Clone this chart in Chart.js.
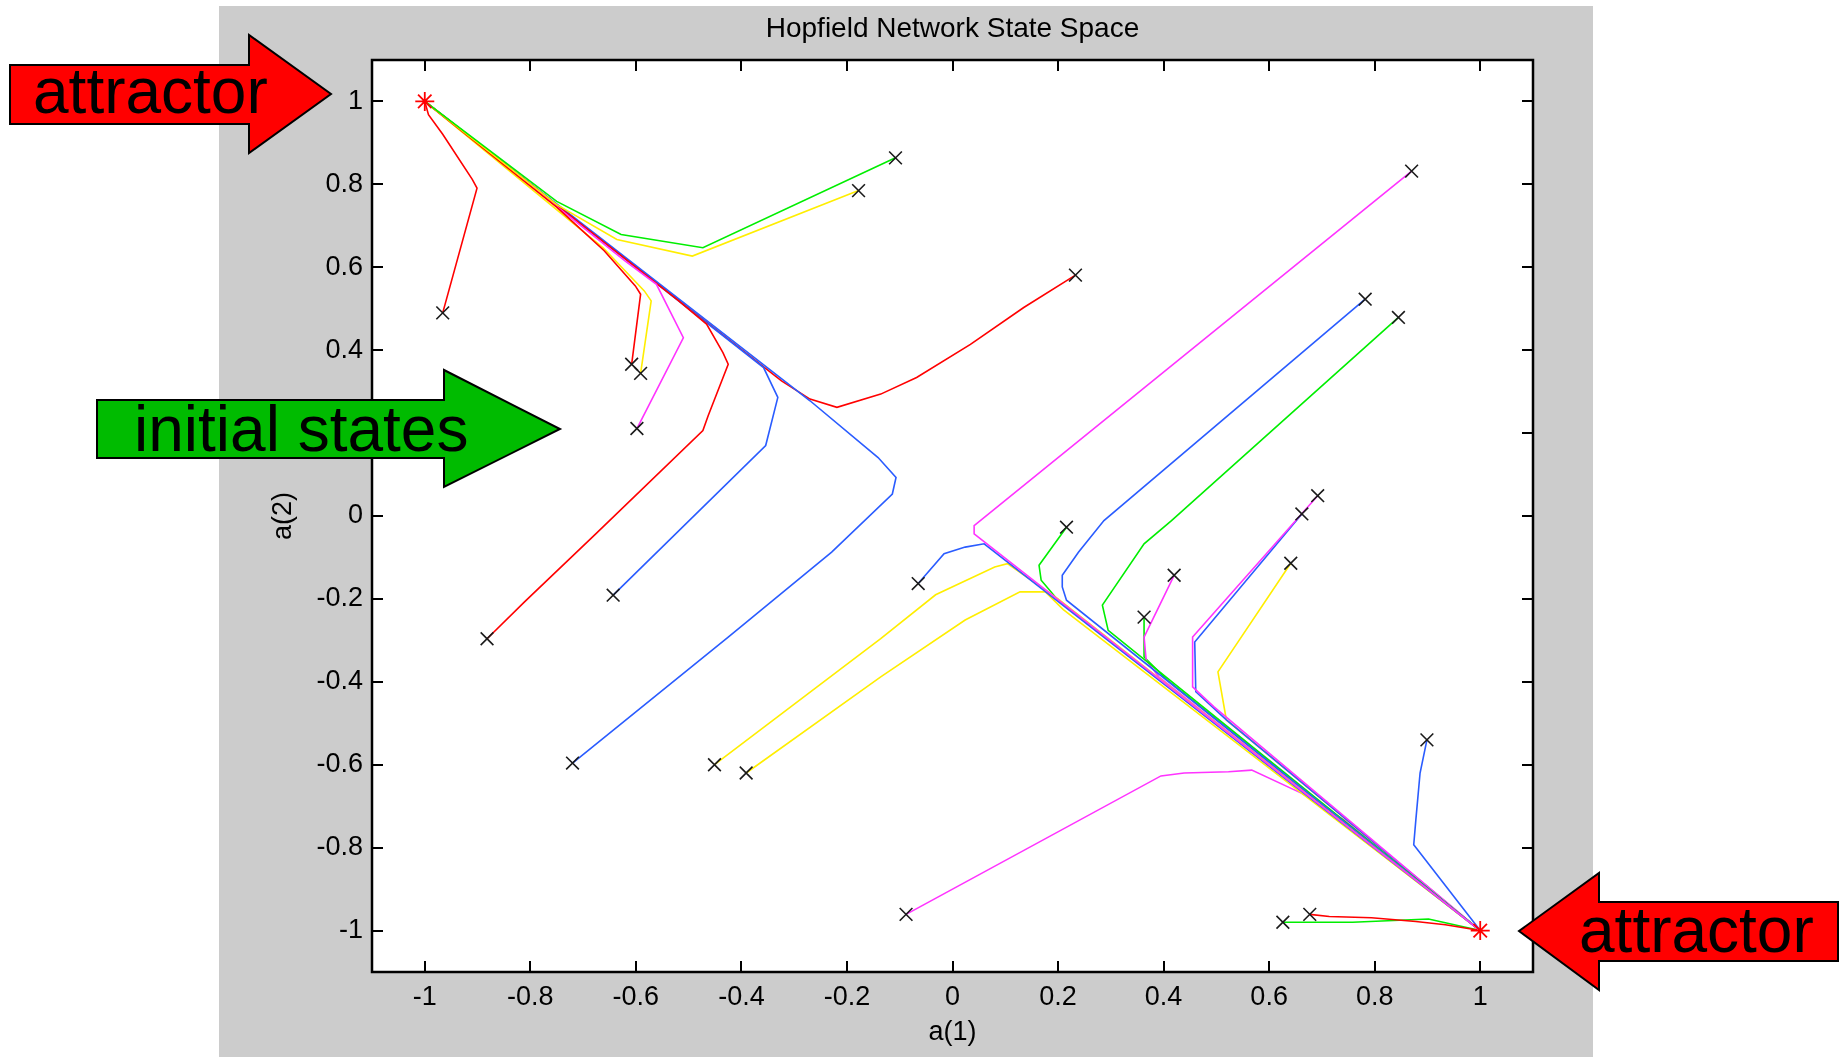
<!DOCTYPE html>
<html><head><meta charset="utf-8">
<script src="https://cdn.jsdelivr.net/npm/chart.js@4.4.1/dist/chart.umd.min.js"></script>
<style>
html,body{margin:0;padding:0;background:#fff;}
#wrap{position:relative;width:1848px;height:1057px;}
#c{position:absolute;left:0;top:0;}
#ann{position:absolute;left:0;top:0;pointer-events:none;font-family:'Liberation Sans',Arial,Helvetica,sans-serif;}
</style></head><body>
<div id="wrap">
<canvas id="c" width="1848" height="1057"></canvas>
<svg id="ann" width="1848" height="1057" xmlns="http://www.w3.org/2000/svg">
  <polygon points="10,65 249,65 249,35 331,94 249,153 249,124 10,124" fill="#ff0000" stroke="#000" stroke-width="2"/>
  <text x="33" y="113" font-size="64" fill="#000">attractor</text>
  <polygon points="97,400 444,400 444,370 560,429 444,487 444,458 97,458" fill="#00bb00" stroke="#000" stroke-width="2"/>
  <text x="134" y="451" font-size="64" fill="#000">initial states</text>
  <polygon points="1838,902 1599,902 1599,873 1519,931 1599,990 1599,961 1838,961" fill="#ff0000" stroke="#000" stroke-width="2"/>
  <text x="1579" y="952" font-size="64" fill="#000">attractor</text>
</svg>
</div>
<script>
// ---- data ----
const tickValues = [-1, -0.8, -0.6, -0.4, -0.2, 0, 0.2, 0.4, 0.6, 0.8, 1];
const attractors = [[-1, 1], [1, -1]];

// trajectories (start point first, ends at an attractor)
const t01 = [[-0.966,0.490],[-0.901,0.791],[-0.910,0.812],[-0.966,0.921],[-0.993,0.968],[-1,1]];
const t02 = [[-0.108,0.864],[-0.473,0.647],[-0.628,0.679],[-0.750,0.759],[-1,1]];
const t03 = [[-0.178,0.785],[-0.493,0.627],[-0.636,0.667],[-0.750,0.751],[-1,1]];
const t04 = [[-0.608,0.366],[-0.591,0.535],[-0.601,0.555],[-0.660,0.640],[-0.750,0.745],[-1,1]];
const t05 = [[-0.591,0.344],[-0.571,0.519],[-0.584,0.543],[-0.662,0.647],[-1,1]];
const t06 = [[-0.598,0.211],[-0.510,0.430],[-0.561,0.559],[-0.620,0.615],[-1,1]];
const t07 = [[-0.882,-0.296],[-0.811,-0.207],[-0.676,-0.043],[-0.473,0.206],[-0.463,0.242],[-0.425,0.366],[-0.435,0.394],[-0.466,0.463],[-0.520,0.520],[-1,1]];
const t08 = [[-0.643,-0.191],[-0.354,0.170],[-0.331,0.286],[-0.358,0.358],[-1,1]];
const t09 = [[-0.720,-0.596],[-0.425,-0.292],[-0.229,-0.087],[-0.114,0.053],[-0.107,0.093],[-0.141,0.141],[-0.270,0.278],[-1,1]];
const t10 = [[0.233,0.581],[0.135,0.503],[0.034,0.414],[-0.068,0.334],[-0.136,0.294],[-0.219,0.262],[-0.270,0.282],[-0.324,0.326],[-1,1]];
const t11 = [[0.870,0.832],[0.041,-0.023],[0.041,-0.043],[0.061,-0.063],[1,-1]];
const t12 = [[-0.065,-0.163],[-0.016,-0.091],[0.024,-0.075],[0.060,-0.067],[1,-1]];
const t13 = [[-0.451,-0.600],[-0.136,-0.296],[-0.032,-0.190],[0.080,-0.123],[0.104,-0.115],[0.200,-0.200],[1,-1]];
const t14 = [[-0.391,-0.620],[-0.136,-0.388],[0.024,-0.251],[0.128,-0.183],[0.176,-0.183],[0.210,-0.226],[1,-1]];
const t15 = [[0.216,-0.027],[0.164,-0.119],[0.168,-0.155],[0.200,-0.203],[1,-1]];
const t16 = [[0.782,0.523],[0.287,-0.011],[0.239,-0.087],[0.208,-0.143],[0.208,-0.171],[0.216,-0.203],[1,-1]];
const t17 = [[0.845,0.479],[0.415,-0.011],[0.363,-0.067],[0.284,-0.215],[0.295,-0.276],[1,-1]];
const t18 = [[0.420,-0.143],[0.363,-0.292],[0.367,-0.348],[0.391,-0.388],[1,-1]];
const t19 = [[0.363,-0.244],[0.363,-0.340],[0.407,-0.396],[1,-1]];
const t20 = [[0.692,0.049],[0.455,-0.292],[0.455,-0.412],[0.495,-0.460],[1,-1]];
const t21 = [[0.662,0.005],[0.459,-0.304],[0.461,-0.424],[0.519,-0.492],[1,-1]];
const t22 = [[0.641,-0.114],[0.503,-0.376],[0.519,-0.492],[1,-1]];
const t23 = [[0.899,-0.540],[0.886,-0.620],[0.878,-0.733],[0.874,-0.793],[1,-1]];
const t24 = [[-0.088,-0.961],[0.395,-0.627],[0.439,-0.620],[0.523,-0.617],[0.567,-0.613],[0.662,-0.669],[0.742,-0.733],[1,-1]];
const t25 = [[0.677,-0.961],[0.714,-0.966],[0.794,-0.969],[0.878,-0.978],[0.934,-0.986],[1,-1]];
const t26 = [[0.626,-0.980],[0.758,-0.980],[0.902,-0.972],[1,-1]];

const trajectories = [t01,t02,t03,t04,t05,t06,t07,t08,t09,t10,t11,t12,t13,t14,t15,t16,t17,t18,t19,t20,t21,t22,t23,t24,t25,t26];
const trajColorKeys = ['r','g','y','r','y','m','r','b','b','r','m','b','y','y','g','b','g','m','g','m','b','y','b','m','r','g'];

// ---- styles ----
const palette = { r:'#ff0000', g:'#00ee00', y:'#ffee00', b:'#2a5cff', m:'#ff33ff' };
const FONT = "'Liberation Sans', Arial, Helvetica, sans-serif";
Chart.defaults.font.family = FONT;
Chart.defaults.color = '#000';

const toXY = p => ({x: p[0], y: p[1]});

const datasets = [];
datasets.push({
  label: 'initial', data: trajectories.map(t => toXY(t[0])),
  pointStyle: 'crossRot', pointRadius: 9, borderColor: '#1a1a1a', borderWidth: 1.6,
  backgroundColor: 'transparent', showLine: false
});
datasets.push({
  label: 'attractor', data: attractors.map(toXY),
  pointStyle: 'star', pointRadius: 9.5, borderColor: '#ff0000', borderWidth: 1.8,
  backgroundColor: 'transparent', showLine: false
});
trajectories.forEach((t, i) => {
  datasets.push({
    label: 'traj' + (i + 1), data: t.map(toXY), showLine: true,
    borderColor: palette[trajColorKeys[i]], borderWidth: 1.6,
    pointRadius: 0, fill: false, tension: 0
  });
});

const frame = {
  id: 'frame',
  beforeDraw(chart) {
    const {ctx, chartArea: a} = chart;
    ctx.save();
    ctx.fillStyle = '#cccccc';
    ctx.fillRect(219, 6, 1374, 1051);
    ctx.fillStyle = '#ffffff';
    ctx.fillRect(a.left, a.top, a.right - a.left, a.bottom - a.top);
    ctx.restore();
  },
  afterDraw(chart) {
    const {ctx, chartArea: a, scales: {x, y}} = chart;
    ctx.save();
    ctx.strokeStyle = '#000';
    ctx.lineWidth = 2;
    ctx.beginPath();
    x.ticks.forEach(t => {
      const px = Math.round(x.getPixelForValue(t.value));
      ctx.moveTo(px, a.bottom); ctx.lineTo(px, a.bottom - 11);
      ctx.moveTo(px, a.top); ctx.lineTo(px, a.top + 11);
    });
    y.ticks.forEach(t => {
      const py = Math.round(y.getPixelForValue(t.value));
      ctx.moveTo(a.left, py); ctx.lineTo(a.left + 11, py);
      ctx.moveTo(a.right, py); ctx.lineTo(a.right - 11, py);
    });
    ctx.stroke();
    ctx.lineWidth = 2.5;
    ctx.strokeRect(a.left, a.top, a.right - a.left, a.bottom - a.top);
    ctx.restore();
  }
};

const fmt = v => String(Number(Number(v).toFixed(1)));

new Chart(document.getElementById('c'), {
  type: 'scatter',
  data: { datasets },
  plugins: [frame],
  options: {
    responsive: false,
    devicePixelRatio: 1,
    animation: false,
    layout: { padding: { left: 0, right: 315, top: 0, bottom: 0 } },
    plugins: {
      legend: { display: false },
      tooltip: { enabled: false },
      title: {
        display: true, text: 'Hopfield Network State Space', fullSize: false,
        color: '#000', font: { size: 28, weight: 'normal', family: FONT, lineHeight: 1.2 },
        padding: { top: 12, bottom: 14.4 }
      }
    },
    scales: {
      x: {
        type: 'linear', position: 'bottom', min: -1.1, max: 1.1,
        afterBuildTicks: s => { s.ticks = tickValues.map(v => ({value: v})); },
        afterFit: s => { s.height = 85; },
        grid: { display: false, drawTicks: false },
        border: { display: false },
        ticks: { padding: 9.5, maxRotation: 0, autoSkip: false, color: '#000',
                 font: { size: 27, family: FONT, lineHeight: 1.2 }, callback: v => fmt(v) },
        title: { display: true, text: 'a(1)', color: '#000',
                 font: { size: 27, family: FONT, lineHeight: 1.2 }, padding: { top: 0, bottom: 8 } }
      },
      y: {
        type: 'linear', position: 'left', min: -1.1, max: 1.1,
        afterBuildTicks: s => { s.ticks = tickValues.map(v => ({value: v})); },
        afterFit: s => { s.width = 372; },
        grid: { display: false, drawTicks: false },
        border: { display: false },
        ticks: { padding: 9, autoSkip: false, color: '#000',
                 font: { size: 27, family: FONT, lineHeight: 1.2 }, callback: v => fmt(v) },
        title: { display: true, text: 'a(2)', color: '#000',
                 font: { size: 27, family: FONT, lineHeight: 1.2 }, padding: { top: 267, bottom: 0 } }
      }
    }
  }
});
</script>
</body></html>
